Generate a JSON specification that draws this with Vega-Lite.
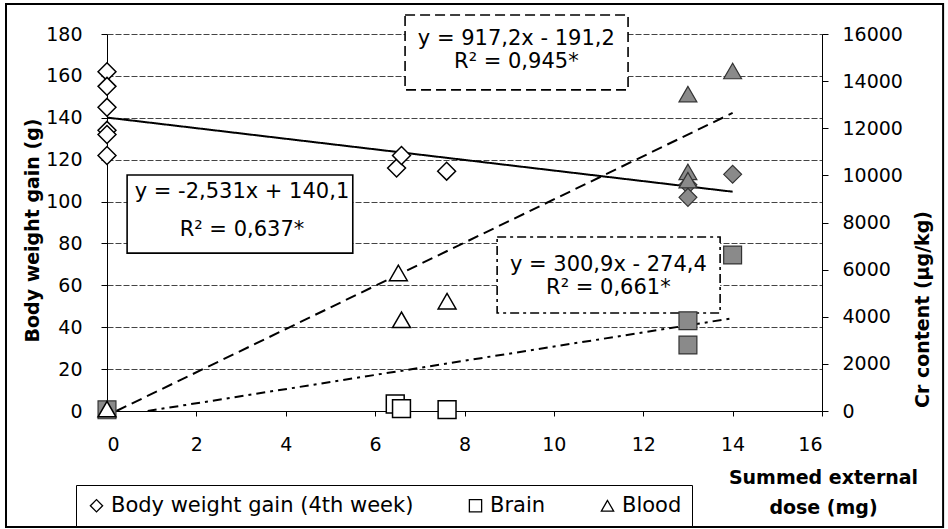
{
  "$schema": "https://vega.github.io/schema/vega-lite/v6.json",
  "width": 715,
  "height": 377,
  "autosize": {"type": "none"},
  "padding": {"left": 107, "top": 34, "right": 126, "bottom": 118},
  "background": "white",
  "config": {
    "font": "DejaVu Sans",
    "view": {"stroke": null},
    "axis": {
      "labelFont": "DejaVu Sans", "labelFontSize": 19, "labelColor": "black",
      "titleFont": "DejaVu Sans", "titleFontSize": 19, "titleFontWeight": "bold", "titleColor": "black",
      "domainColor": "black", "tickColor": "black", "domainWidth": 1, "tickWidth": 1
    },
    "legend": {
      "orient": "none", "legendX": -31, "legendY": 451, "direction": "horizontal",
      "strokeColor": "black", "fillColor": "white",
      "padding": 10, "labelFont": "DejaVu Sans", "labelFontSize": 21, "labelColor": "black",
      "labelLimit": 500, "symbolSize": 150, "symbolStrokeWidth": 1.3,
      "columnPadding": 51, "labelOffset": 4, "symbolOpacity": 1
    },
    "text": {"font": "DejaVu Sans"}
  },
  "datasets": {
    "bwPoints": [
      {"dose": 0, "bw": 162, "series": "Body weight gain (4th week)", "group": "open"},
      {"dose": 0, "bw": 155, "series": "Body weight gain (4th week)", "group": "open"},
      {"dose": 0, "bw": 145, "series": "Body weight gain (4th week)", "group": "open"},
      {"dose": 0, "bw": 134, "series": "Body weight gain (4th week)", "group": "open"},
      {"dose": 0, "bw": 132, "series": "Body weight gain (4th week)", "group": "open"},
      {"dose": 0, "bw": 122, "series": "Body weight gain (4th week)", "group": "open"},
      {"dose": 6.48, "bw": 116, "series": "Body weight gain (4th week)", "group": "open"},
      {"dose": 6.59, "bw": 122, "series": "Body weight gain (4th week)", "group": "open"},
      {"dose": 7.6, "bw": 114.5, "series": "Body weight gain (4th week)", "group": "open"},
      {"dose": 13, "bw": 108, "series": "Body weight gain (4th week)", "group": "filled"},
      {"dose": 13, "bw": 102, "series": "Body weight gain (4th week)", "group": "filled"},
      {"dose": 14, "bw": 113, "series": "Body weight gain (4th week)", "group": "filled"}
    ],
    "crPoints": [
      {"dose": 0, "cr": 50, "series": "Brain", "group": "filled"},
      {"dose": 6.45, "cr": 300, "series": "Brain", "group": "open"},
      {"dose": 6.59, "cr": 100, "series": "Brain", "group": "open"},
      {"dose": 7.61, "cr": 60, "series": "Brain", "group": "open"},
      {"dose": 13, "cr": 3830, "series": "Brain", "group": "filled"},
      {"dose": 13, "cr": 2800, "series": "Brain", "group": "filled"},
      {"dose": 14, "cr": 6620, "series": "Brain", "group": "filled"},
      {"dose": 0, "cr": 80, "series": "Blood", "group": "open"},
      {"dose": 6.52, "cr": 5860, "series": "Blood", "group": "open"},
      {"dose": 6.59, "cr": 3870, "series": "Blood", "group": "open"},
      {"dose": 7.61, "cr": 4660, "series": "Blood", "group": "open"},
      {"dose": 13, "cr": 13450, "series": "Blood", "group": "filled"},
      {"dose": 13, "cr": 10150, "series": "Blood", "group": "filled"},
      {"dose": 13, "cr": 9800, "series": "Blood", "group": "filled"},
      {"dose": 14, "cr": 14430, "series": "Blood", "group": "filled"}
    ],
    "fitsBW": [
      {"dose": 0, "bw": 140.1, "style": "solid"},
      {"dose": 14, "bw": 104.7, "style": "solid"}
    ],
    "fitsCr": [
      {"dose": 0.21, "cr": 0, "style": "dash"},
      {"dose": 14, "cr": 12650, "style": "dash"},
      {"dose": 0.91, "cr": 0, "style": "dashdot"},
      {"dose": 14, "cr": 3938, "style": "dashdot"}
    ],
    "boxes": [
      {"dose": 0.45, "dose2": 5.5, "bw": 112.7, "bw2": 75.4, "style": "solid"},
      {"dose": 6.67, "dose2": 11.66, "bw": 189.1, "bw2": 153.3, "style": "dash"},
      {"dose": 8.73, "dose2": 13.72, "bw": 83.1, "bw2": 46.8, "style": "dashdot"}
    ],
    "labels": [
      {"dose": 3.02, "bw": 104.7, "text": "y = -2,531x + 140,1"},
      {"dose": 3.02, "bw": 86.4, "text": "R² = 0,637*"},
      {"dose": 9.16, "bw": 177.4, "text": "y = 917,2x - 191,2"},
      {"dose": 9.16, "bw": 166.8, "text": "R² = 0,945*"},
      {"dose": 11.22, "bw": 69.7, "text": "y = 300,9x - 274,4"},
      {"dose": 11.22, "bw": 58.6, "text": "R² = 0,661*"}
    ],
    "frame": [
      {"dose": -2.26, "dose2": 18.71, "bw": 194.3, "bw2": -55.4}
    ]
  },
  "encoding": {
    "x": {
      "field": "dose", "type": "quantitative",
      "scale": {"domain": [0, 16], "nice": false, "zero": false},
      "axis": {
        "values": [0, 2, 4, 6, 8, 10, 12, 14, 16],
        "tickSize": 5, "labelPadding": 19, "grid": false,
        "title": ["Summed external", "dose (mg)"],
        "titleX": 716, "titleY": 66, "titleAlign": "center", "titleBaseline": "middle",
        "titleLineHeight": 30
      }
    }
  },
  "layer": [
    {
      "encoding": {
        "y": {
          "field": "bw", "type": "quantitative",
          "scale": {"domain": [0, 180], "nice": false, "zero": false},
          "axis": {
            "values": [0, 20, 40, 60, 80, 100, 120, 140, 160, 180],
            "tickSize": 6, "labelPadding": 19, "grid": true,
            "gridColor": "#444", "gridDash": [6, 2], "gridWidth": 1,
            "title": "Body weight gain (g)", "titleAngle": -90,
            "titleX": -75, "titleY": 196, "titleAlign": "center", "titleBaseline": "middle"
          }
        }
      },
      "layer": [
        {
          "data": {"name": "frame"},
          "mark": {"type": "rect", "fill": null, "fillOpacity": 0, "stroke": "black", "strokeWidth": 2},
          "encoding": {
            "x2": {"field": "dose2"},
            "y2": {"field": "bw2"}
          }
        },
        {
          "data": {"name": "boxes"},
          "transform": [{"filter": "datum.style === 'solid'"}],
          "mark": {"type": "rect", "fill": "white", "stroke": "black", "strokeWidth": 1.6},
          "encoding": {
            "x2": {"field": "dose2"},
            "y2": {"field": "bw2"}
          }
        },
        {
          "data": {"name": "boxes"},
          "transform": [{"filter": "datum.style === 'dash'"}],
          "mark": {"type": "rect", "fill": "white", "stroke": "black", "strokeWidth": 1.6, "strokeDash": [10, 5]},
          "encoding": {
            "x2": {"field": "dose2"},
            "y2": {"field": "bw2"}
          }
        },
        {
          "data": {"name": "boxes"},
          "transform": [{"filter": "datum.style === 'dashdot'"}],
          "mark": {"type": "rect", "fill": "white", "stroke": "black", "strokeWidth": 1.6, "strokeDash": [9, 4, 3, 4]},
          "encoding": {
            "x2": {"field": "dose2"},
            "y2": {"field": "bw2"}
          }
        },
        {
          "data": {"name": "labels"},
          "mark": {"type": "text", "fontSize": 21, "align": "center", "baseline": "middle", "color": "black"},
          "encoding": {
            "text": {"field": "text", "type": "nominal"}
          }
        },
        {
          "data": {"name": "fitsBW"},
          "mark": {"type": "line", "color": "black", "strokeWidth": 2},
          "encoding": {
            "strokeDash": {
              "field": "style", "type": "nominal",
              "scale": {"domain": ["solid", "dash", "dashdot"], "range": [[1, 0], [11, 6], [9, 5, 3, 5]]},
              "legend": null
            }
          }
        },
        {
          "data": {"name": "bwPoints"},
          "transform": [{"filter": "datum.group === 'open'"}],
          "mark": {"type": "point", "filled": true, "strokeWidth": 1.5, "size": 320, "opacity": 1},
          "encoding": {
            "shape": {
              "field": "series", "type": "nominal",
              "scale": {"domain": ["Body weight gain (4th week)", "Brain", "Blood"], "range": ["diamond", "square", "triangle-up"]},
              "legend": {"title": null}
            },
            "fill": {
              "field": "series", "type": "nominal",
              "scale": {"domain": ["Body weight gain (4th week)", "Brain", "Blood"], "range": ["white", "white", "white"]},
              "legend": {"title": null}
            },
            "stroke": {
              "field": "series", "type": "nominal",
              "scale": {"domain": ["Body weight gain (4th week)", "Brain", "Blood"], "range": ["black", "black", "black"]},
              "legend": {"title": null}
            }
          }
        },
        {
          "data": {"name": "bwPoints"},
          "transform": [{"filter": "datum.group === 'filled'"}],
          "mark": {"type": "point", "filled": true, "fill": "#8a8a8a", "stroke": "#333", "strokeWidth": 1.2, "size": 320, "opacity": 1},
          "encoding": {
            "shape": {
              "field": "series", "type": "nominal",
              "scale": {"domain": ["Body weight gain (4th week)", "Brain", "Blood"], "range": ["diamond", "square", "triangle-up"]},
              "legend": {"title": null}
            }
          }
        }
      ]
    },
    {
      "encoding": {
        "y": {
          "field": "cr", "type": "quantitative",
          "scale": {"domain": [0, 16000], "nice": false, "zero": false},
          "axis": {
            "orient": "right",
            "values": [0, 2000, 4000, 6000, 8000, 10000, 12000, 14000, 16000],
            "format": "d",
            "tickSize": 6, "labelPadding": 14, "grid": false,
            "title": "Cr content (µg/kg)", "titleAngle": -90,
            "titleX": 100, "titleY": 275, "titleAlign": "center", "titleBaseline": "middle"
          }
        }
      },
      "layer": [
        {
          "data": {"name": "fitsCr"},
          "mark": {"type": "line", "color": "black", "strokeWidth": 2},
          "encoding": {
            "strokeDash": {
              "field": "style", "type": "nominal",
              "scale": {"domain": ["solid", "dash", "dashdot"], "range": [[1, 0], [11, 6], [9, 5, 3, 5]]},
              "legend": null
            }
          }
        },
        {
          "data": {"name": "crPoints"},
          "transform": [{"filter": "datum.group === 'filled'"}],
          "mark": {"type": "point", "filled": true, "fill": "#8a8a8a", "stroke": "#333", "strokeWidth": 1.2, "size": 320, "opacity": 1},
          "encoding": {
            "shape": {
              "field": "series", "type": "nominal",
              "scale": {"domain": ["Body weight gain (4th week)", "Brain", "Blood"], "range": ["diamond", "square", "triangle-up"]},
              "legend": {"title": null}
            }
          }
        },
        {
          "data": {"name": "crPoints"},
          "transform": [{"filter": "datum.group === 'open'"}],
          "mark": {"type": "point", "filled": true, "strokeWidth": 1.5, "size": 320, "opacity": 1},
          "encoding": {
            "shape": {
              "field": "series", "type": "nominal",
              "scale": {"domain": ["Body weight gain (4th week)", "Brain", "Blood"], "range": ["diamond", "square", "triangle-up"]},
              "legend": {"title": null}
            },
            "fill": {
              "field": "series", "type": "nominal",
              "scale": {"domain": ["Body weight gain (4th week)", "Brain", "Blood"], "range": ["white", "white", "white"]},
              "legend": {"title": null}
            },
            "stroke": {
              "field": "series", "type": "nominal",
              "scale": {"domain": ["Body weight gain (4th week)", "Brain", "Blood"], "range": ["black", "black", "black"]},
              "legend": {"title": null}
            }
          }
        }
      ]
    }
  ],
  "resolve": {"scale": {"y": "independent"}}
}
